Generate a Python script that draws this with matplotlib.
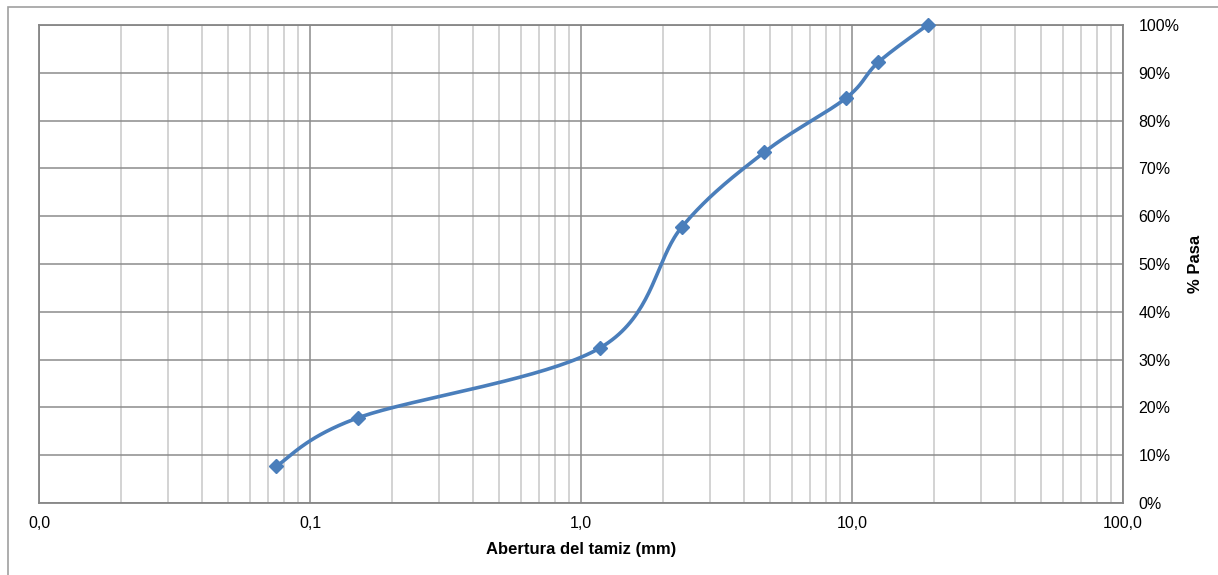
import numpy as np
import matplotlib.pyplot as plt
from matplotlib.ticker import FixedLocator, LogLocator, NullFormatter, FuncFormatter, PercentFormatter
from matplotlib.patches import Rectangle

# Curva granulométrica
abertura = [0.075, 0.15, 1.18, 2.36, 4.75, 9.5, 12.5, 19.0]
pasa = [7.7, 17.8, 32.5, 57.8, 73.4, 84.7, 92.2, 100.0]
x_ticks = [0.01, 0.1, 1, 10, 100]
x_tick_labels = ["0,0", "0,1", "1,0", "10,0", "100,0"]

azul = "#4a7ebb"


# Línea suavizada estilo Excel (Bezier tipo Catmull-Rom en espacio log-x)
def suavizar(xs, ys, n=40):
    lx = np.log10(np.array(xs))
    y = np.array(ys, dtype=float)
    P = np.column_stack([lx, y])
    out = []
    for i in range(len(P) - 1):
        p0 = P[i - 1] if i > 0 else P[i]
        p1, p2 = P[i], P[i + 1]
        p3 = P[i + 2] if i + 2 < len(P) else P[i + 1]
        c1 = p1 + (p2 - p0) / 6
        c2 = p2 - (p3 - p1) / 6
        t = np.linspace(0, 1, n)[:, None]
        seg = (1 - t) ** 3 * p1 + 3 * (1 - t) ** 2 * t * c1 + 3 * (1 - t) * t ** 2 * c2 + t ** 3 * p2
        out.append(seg if i == 0 else seg[1:])
    out = np.vstack(out)
    return 10 ** out[:, 0], out[:, 1]


fig = plt.figure(figsize=(12.18, 5.75), dpi=100)
plt.rcParams['font.family'] = ['Liberation Sans', 'DejaVu Sans']
ax = fig.add_axes([39 / 1218, 1 - 503 / 575, (1123 - 39) / 1218, (503 - 25) / 575])

# borde exterior del gráfico
fig.patches.append(Rectangle((8 / 1218, -0.1), 1.2, 1 - 7 / 575 + 0.1, transform=fig.transFigure,
                             fill=False, edgecolor="#a0a0a0", linewidth=1.2))

sx, sy = suavizar(abertura, pasa)
ax.plot(sx, sy, color=azul, linewidth=2.6, solid_capstyle="round", zorder=3, clip_on=False)
ax.plot(abertura, pasa, linestyle="none", marker="D", markersize=7, color=azul, zorder=4, clip_on=False)

ax.set_xscale("log")
ax.set_xlim(0.01, 100)
ax.set_ylim(0, 100)

ax.xaxis.set_major_locator(FixedLocator(x_ticks))
ax.xaxis.set_major_formatter(FuncFormatter(lambda v, p: x_tick_labels[x_ticks.index(v)] if v in x_ticks else ""))
ax.xaxis.set_minor_locator(LogLocator(base=10, subs=np.arange(2, 10), numticks=20))
ax.xaxis.set_minor_formatter(NullFormatter())
ax.set_yticks(np.arange(0, 101, 10))
ax.yaxis.set_major_formatter(PercentFormatter(decimals=0))

ax.yaxis.tick_right()
ax.yaxis.set_label_position("right")
ax.tick_params(axis="both", which="both", length=0, labelsize=11.5, colors="#000000")
ax.tick_params(axis="y", pad=11)
ax.tick_params(axis="x", pad=9)

ax.grid(which="major", color="#8c8c8c", linewidth=1.1)
ax.grid(which="minor", axis="x", color="#c8c8c8", linewidth=1.1)
ax.set_axisbelow(True)
for s in ax.spines.values():
    s.set_color("#868686")
    s.set_linewidth(1.3)

ax.set_xlabel("Abertura del tamiz (mm)", fontweight="bold", fontsize=12, labelpad=8)
ax.set_ylabel("% Pasa", fontweight="bold", fontsize=12, labelpad=6)

fig.savefig("out.png", dpi=100)
plt.close()
